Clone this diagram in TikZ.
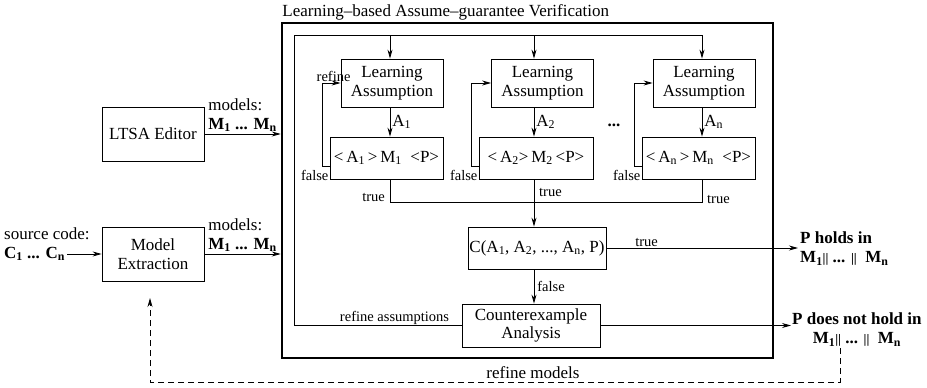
\documentclass[tikz,border=0pt]{standalone}
\usepackage{fontspec}
\setmainfont{Liberation Serif}
\usetikzlibrary{arrows.meta}
\newcommand{\barbar}{{\fontsize{13}{13}\selectfont ||}}
\begin{document}
\begin{tikzpicture}[x=1pt, y=-1pt, >={Stealth[length=9pt,width=5pt]},
      every node/.style={font=\fontsize{17}{18.5}\selectfont},
      box/.style={draw, line width=0.8pt, minimum height=42pt, align=center, inner sep=1pt},
      lbl/.style={font=\fontsize{14.5}{16}\selectfont, inner sep=1pt},
      wire/.style={line width=0.8pt}]
      \useasboundingbox (0,0) rectangle (927,388);
      % outer frame
      \node[draw, line width=2.5pt, minimum width=491pt, minimum height=335pt] (agv) at (527.5,190.5) {};
      \node[anchor=south west, inner sep=1.5pt] (title) at (agv.north west) {Learning–based Assume–guarantee Verification};
      % columns
      \coordinate (c1) at (390,35);
      \coordinate (c2) at (534,35);
      \coordinate (c3) at (702,35);
      \coordinate (lc) at (294,35);
      \coordinate (tr) at (0,202);
      % boxes
      \node[box, minimum width=102pt, minimum height=54pt] (ltsa) at (153,134) {LTSA Editor};
      \node[box, minimum width=102pt, minimum height=54pt] (modex) at (153,254) {Model\\Extraction};
      \node[box, minimum width=102pt, minimum height=48pt] (learn1) at (392,83) {Learning\\Assumption};
      \node[box, minimum width=102pt, minimum height=48pt] (learn2) at (542.5,83) {Learning\\Assumption};
      \node[box, minimum width=102pt, minimum height=48pt] (learn3) at (704,83) {Learning\\Assumption};
      \node[box, minimum width=113pt] (check1) at (386.5,158) {<\,A\textsubscript{1}\,>\,M\textsubscript{1}\ \ <P>};
      \node[box, minimum width=114pt] (check2) at (536,158) {<\,A\textsubscript{2}>\,M\textsubscript{2}\,<P>};
      \node[box, minimum width=113pt] (check3) at (698.5,158) {<\,A\textsubscript{n}\,>\,M\textsubscript{n}\ \ <P>};
      \node[font=\bfseries\fontsize{17}{18}\selectfont] (dots) at (614,125) {...};
      \node[box, minimum width=138pt] (cbox) at (537,248) {C(A\textsubscript{1}, A\textsubscript{2}, ..., A\textsubscript{n}, P)};
      \node[box, minimum width=138pt, minimum height=43pt] (counter) at (531,325.5) {Counterexample\\Analysis};
      \node[anchor=west, align=left, inner sep=2pt, font=\bfseries\fontsize{17}{19}\selectfont] (holds) at (798,249) {P holds in\\M\textsubscript{1}\barbar{} ... \barbar\ \ M\textsubscript{n}};
      \node[anchor=west, align=center, inner sep=1pt, font=\bfseries\fontsize{17}{19}\selectfont] (fails) at (791,330) {P does not hold in\\M\textsubscript{1}\barbar{} ... \barbar\ \ M\textsubscript{n}};
      \node[anchor=west, inner sep=2pt] (srclbl) at (2,234) {source code:};
      \node[anchor=west, inner sep=2pt, font=\bfseries\fontsize{17}{18}\selectfont] (src) at (2,254) {C\textsubscript{1} ... C\textsubscript{n}};
      \coordinate (dz) at (840,382);
      \coordinate (rm) at (150,298);
      % inputs
      \draw[wire,->] (src.east) -- (src.east -| modex.west);
      \draw[wire,->] (ltsa.east) -- node[above, align=left, inner sep=2pt]{models:\\\textbf{M\textsubscript{1} ... M\textsubscript{n}}} (ltsa.east -| agv.west);
      \draw[wire,->] (modex.east) -- node[above, align=left, inner sep=2pt]{models:\\\textbf{M\textsubscript{1} ... M\textsubscript{n}}} (modex.east -| agv.west);
      % learning loops
      \draw[wire,->] (c1) -- (c1 |- learn1.north);
      \draw[wire,->] (c2) -- (c2 |- learn2.north);
      \draw[wire,->] (counter.west) -- node[lbl, above, pos=0.4]{refine assumptions} (counter.west -| lc) -- (lc) -- (c3) -- (c3 |- learn3.north);
      \draw[wire,->] (c1 |- learn1.south) -- node[right, inner sep=2pt]{A\textsubscript{1}} (c1 |- check1.north);
      \draw[wire,->] (c2 |- learn2.south) -- node[right, inner sep=2pt]{A\textsubscript{2}} (c2 |- check2.north);
      \draw[wire,->] (c3 |- learn3.south) -- node[right, inner sep=2pt]{A\textsubscript{n}} (c3 |- check3.north);
      \foreach \i in {1,2,3} {
        \draw[wire,->] ([yshift=13pt]check\i.south west) -- ++(-7pt,0) |- (learn\i.west);
        \node[lbl, anchor=east] at ([yshift=4pt]check\i.south west) {false};
      }
      \node[lbl, above] at ([xshift=-7pt]learn1.west) {refine};
      % results
      \draw[wire] (c1 |- check1.south) -- (c1 |- tr) -- (c3 |- tr) -- (c3 |- check3.south);
      \draw[wire,->] (c2 |- check2.south) -- (c2 |- cbox.north);
      \node[lbl, anchor=east] at (386,197) {true};
      \node[lbl, anchor=west] at (538,192) {true};
      \node[lbl, anchor=west] at (706,199) {true};
      \draw[wire,->] (cbox.east) -- node[lbl, above, pos=0.21]{true} (cbox.east -| holds.west);
      \draw[wire,->] (c2 |- cbox.south) -- node[lbl, right, inner sep=3pt]{false} (c2 |- counter.north);
      \draw[wire,->] (counter.east) -- (counter.east -| fails.west);
      \draw[wire, dash pattern=on 6pt off 4pt, ->] (fails.south -| dz) -- (dz) -- node[above, pos=0.445]{refine models} (dz -| rm) -- (rm);
    \end{tikzpicture}
\end{document}
